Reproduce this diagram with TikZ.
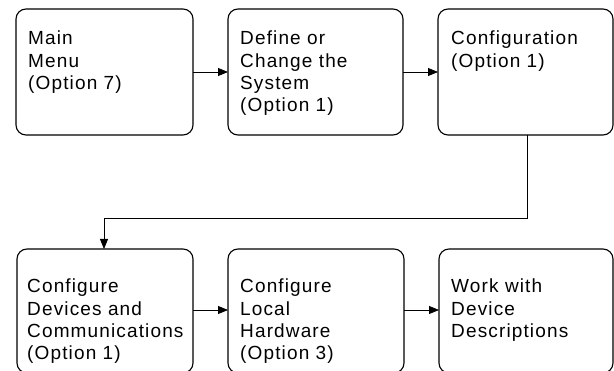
\documentclass[tikz,border=0pt]{standalone}
\usepackage{fontspec}
\setmainfont[LetterSpace=6]{Liberation Sans}
\usetikzlibrary{arrows.meta}
\begin{document}
\begin{tikzpicture}[x=1pt,y=-1pt,
  menubox/.style={draw, line width=1.1pt, rounded corners=10pt},
  menutext/.style={anchor=north west, inner sep=0pt, align=left,
    font=\fontsize{19}{22.3}\selectfont},
  flow/.style={line width=0.8pt, -{Triangle[length=10pt,width=8pt]}}]
  \useasboundingbox[clip] (0,0) rectangle (614,371);
  % top row
  \draw[menubox] (16,9) rectangle (193,135);
  \draw[menubox] (228,9) rectangle (403,135);
  \draw[menubox] (438,9) rectangle (613,135);
  % bottom row (runs past the lower edge)
  \draw[menubox] (17,249) rectangle (193,373);
  \draw[menubox] (228,249) rectangle (404,373);
  \draw[menubox] (439,249) rectangle (613,373);
  \coordinate (b1e) at (193,72);  \coordinate (b2w) at (228,72);
  \coordinate (b2e) at (403,72);  \coordinate (b3w) at (438,72);
  \coordinate (b3s) at (527,135); \coordinate (b4n) at (104,249);
  \coordinate (b4e) at (193,310); \coordinate (b5w) at (228,310);
  \coordinate (b5e) at (404,310); \coordinate (b6w) at (439,310);
  \node[menutext] (t1) at (28,31) {Main\\Menu\\(Option 7)};
  \node[menutext] (t2) at (240,31) {Define or\\Change the\\System\\(Option 1)};
  \node[menutext] (t3) at (451,31) {Configuration\\(Option 1)};
  \node[menutext] (t4) at (27,279) {Configure\\Devices and\\Communications\\(Option 1)};
  \node[menutext] (t5) at (240,279) {Configure\\Local\\Hardware\\(Option 3)};
  \node[menutext] (t6) at (451,279) {Work with\\Device\\Descriptions};
  \draw[flow] (b1e) -- (b2w);
  \draw[flow] (b2e) -- (b3w);
  \draw[flow] (b3s) -- (527,218) -- (104,218) -- (b4n);
  \draw[flow] (b4e) -- (b5w);
  \draw[flow] (b5e) -- (b6w);
\end{tikzpicture}
\end{document}
